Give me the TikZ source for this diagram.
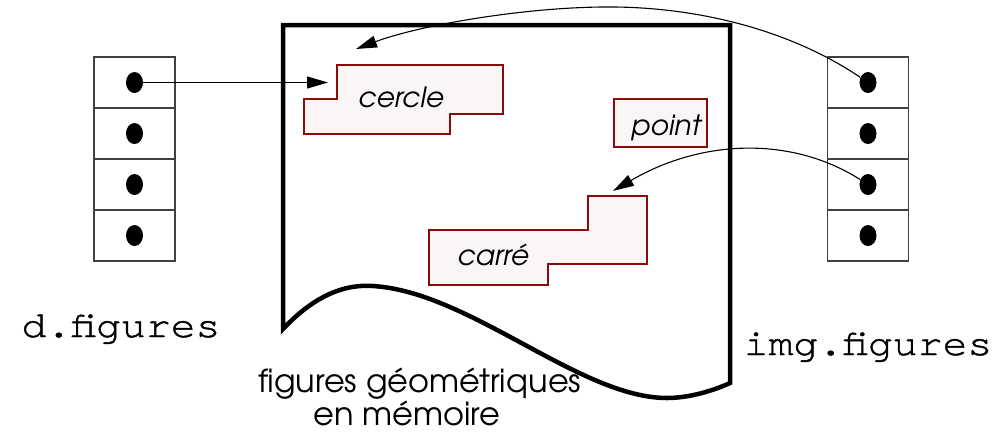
\documentclass[tikz,border=0pt]{standalone}
\usepackage{fontspec}
\usetikzlibrary{arrows.meta,shapes.geometric}
\newfontfamily\gothic{TeX Gyre Adventor}
\newfontfamily\typew[FakeStretch=1.12,FakeBold=1.2]{TeX Gyre Cursor}
\definecolor{objred}{RGB}{139,10,10}
\definecolor{objfill}{RGB}{249,246,245}

\begin{document}
\begin{tikzpicture}[x=1pt,y=-1pt,
  cell/.style={draw=black!75,line width=1.4pt,minimum width=81pt,minimum height=51pt,inner sep=0pt,outer sep=0pt},
  refdot/.style={ellipse,fill=black,minimum width=17pt,minimum height=21pt,inner sep=0pt},
  objet/.style={draw=objred,fill=objfill,line width=2.6pt,line join=miter},
  objlabel/.style={anchor=base,inner sep=0pt,font=\gothic\itshape\fontsize{28}{30}\selectfont},
  memlabel/.style={anchor=base,inner sep=0pt,font=\gothic\fontsize{32}{36}\selectfont},
  varname/.style={anchor=base,inner sep=0pt,font=\typew\fontsize{37}{40}\selectfont},
  ptr/.style={line width=1.1pt,-{Triangle[length=21pt,width=12pt]}}]
\useasboundingbox (0,0) rectangle (1008,432);

% memory page with a wavy torn bottom edge
\draw[line width=4.5pt,line join=miter]
  (283,329) -- (283,25) -- (730,25) -- (730,383)
  .. controls (715,390) and (690,398) .. (667,398)
  .. controls (580,398) and (470,292) .. (373,286)
  .. controls (345,284) and (315,295) .. (283,329) -- cycle;

% objects in memory
\draw[objet] (337,65) -- (503,65) -- (503,114) -- (450,114) -- (450,134)
  -- (304,134) -- (304,99) -- (337,99) -- cycle;
\draw[objet] (614,99) rectangle (707,147);
\draw[objet] (588,196) -- (647,196) -- (647,264) -- (548,264) -- (548,285)
  -- (429,285) -- (429,230) -- (588,230) -- cycle;
\node[objlabel] (tcercle) at (401,107) {cercle};
\node[objlabel] (tpoint) at (666,135) {point};
\node[objlabel] (tcarre) at (493,265) {carré};

% reference arrays
\foreach \i/\y in {1/82.5,2/133.5,3/184.5,4/235.5}{
  \node[cell] (lc\i) at (134.5,\y) {};
  \node[refdot] (ld\i) at (lc\i) {};
  \node[cell] (rc\i) at (868,\y) {};
  \node[refdot] (rd\i) at (rc\i) {};
}

% targets of the pointers
\coordinate (toCercle) at (328,82.5);
\coordinate (toPage) at (356,49);
\coordinate (toCarre) at (613,191);

\draw[ptr] (ld1) -- (toCercle);
\draw[ptr] (rd1) .. controls (790,30) and (700,8) .. (615,7)
  .. controls (530,6) and (420,25) .. (toPage);
\draw[ptr] (rd3) .. controls (790,135) and (700,140) .. (toCarre);

% labels
\node[varname] (dname) at (121,337) {d.figures};
\node[varname] (imgname) at (868,355) {img.figures};
\node[memlabel] (mem1) at (420,392) {figures géométriques};
\node[memlabel] (mem2) at (407,425) {en mémoire};
\end{tikzpicture}
\end{document}
